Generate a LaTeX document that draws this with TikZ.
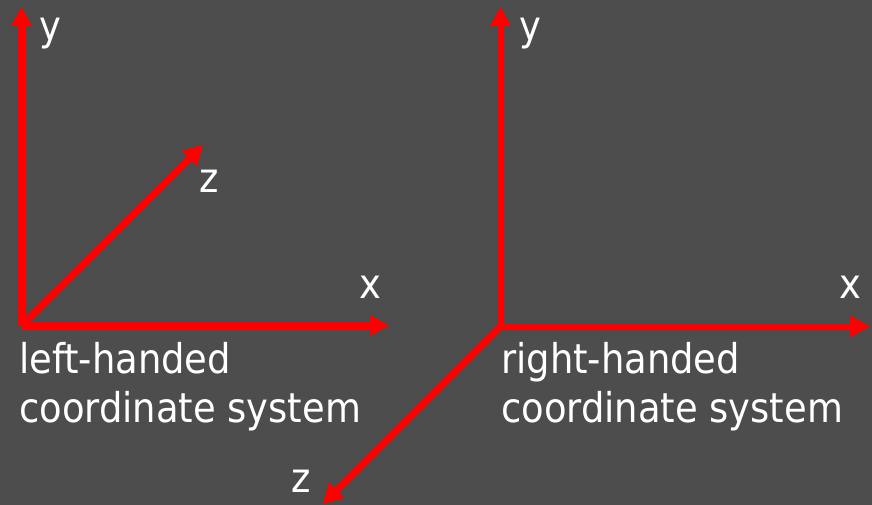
\documentclass[tikz,border=0pt]{standalone}
\usepackage{fontspec}
\setmainfont{DejaVu Sans Condensed}
\usetikzlibrary{arrows.meta}
\definecolor{bgc}{HTML}{4D4D4D}
\begin{document}
\begin{tikzpicture}[x=1pt,y=-1pt,
  axis/.style={draw=red,line width=7pt,-{Triangle[length=20pt,width=20pt]}},
  lbl/.style={text=white,inner sep=0pt,font=\fontsize{41}{49}\selectfont,anchor=base},
  caption/.style={text=white,inner sep=0pt,font=\fontsize{41}{49}\selectfont,anchor=base west}]
\fill[bgc] (0,0) rectangle (872,505);
\useasboundingbox (0,0) rectangle (872,505);
% left system
\coordinate (lo) at (21,325);
\coordinate (ly) at (21,6);
\coordinate (lx) at (389,325);
\coordinate (lz) at (203,144);
\draw[axis] (lo) -- (ly);
\draw[axis] (lo) -- (lx);
\draw[axis] (lo) -- (lz);
\node[lbl] (lyl) at (50,41) {y};
\node[lbl] (lzl) at (209,193) {z};
\node[lbl] (lxl) at (370,298) {x};
\node[caption] (lc1) at (19,373) {left-handed};
\node[caption] (lc2) at (19,422) {coordinate system};
% right system
\coordinate (ro) at (500,326);
\coordinate (ry) at (500,6);
\coordinate (rx) at (870,326);
\coordinate (rz) at (322,504);
\draw[axis] (ro) -- (ry);
\draw[axis] (ro) -- (rx);
\draw[axis] (ro) -- (rz);
\node[lbl] (ryl) at (530,41) {y};
\node[lbl] (rzl) at (301,492) {z};
\node[lbl] (rxl) at (850,298) {x};
\node[caption] (rc1) at (501,373) {right-handed};
\node[caption] (rc2) at (501,422) {coordinate system};
\end{tikzpicture}
\end{document}
